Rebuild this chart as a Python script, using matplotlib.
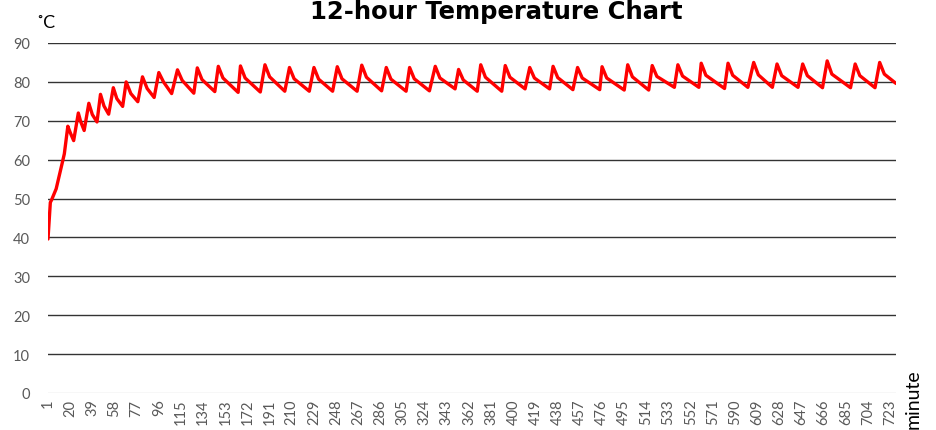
import matplotlib
matplotlib.use("Agg")
import matplotlib.pyplot as plt

# warm-up ramp before the thermostat starts cycling
ramp_min = [1, 3, 4, 8, 13, 15]
ramp_temp = [39.6, 49.0, 49.6, 52.5, 58.9, 61.5]

# heater cycles: top of each spike
peak_min = [18, 27, 36, 46, 57, 68, 82, 96, 112, 129, 147, 166, 187, 208, 229,
            249, 270, 291, 311, 333, 353, 372, 393, 414, 434, 455, 476, 498,
            519, 541, 561, 584, 606, 626, 648, 669, 693, 714]
peak_temp = [68.6, 72.0, 74.5, 76.8, 78.5, 80.0, 81.3, 82.4, 83.1, 83.6, 84.0,
             84.1, 84.4, 83.7, 83.7, 83.9, 84.3, 83.7, 83.7, 84.0, 83.2, 84.4,
             84.2, 83.7, 84.0, 83.7, 83.9, 84.4, 84.2, 84.4, 84.8, 84.8, 85.0,
             84.6, 84.6, 85.4, 84.6, 85.0]

# where the fast drop after a spike turns into the slow cool-down
knee_min = [20, 29, 39, 49, 60, 72, 86, 100, 116, 133, 151, 170, 191, 212, 233,
            253, 274, 295, 315, 337, 357, 376, 397, 418, 438, 459, 480, 502,
            523, 545, 565, 588, 610, 630, 652, 673, 697, 718]
knee_temp = [67.0, 69.8, 71.6, 73.8, 75.7, 77.0, 78.3, 80.0, 80.4, 80.6, 81.0,
             81.0, 81.3, 80.8, 80.7, 80.8, 81.2, 80.7, 80.8, 81.0, 80.5, 81.2,
             81.2, 81.0, 81.1, 81.0, 81.0, 81.3, 81.4, 81.5, 81.7, 81.7, 81.8,
             81.6, 81.6, 82.0, 81.6, 82.0]

# bottom of each cool-down, just before the next spike
trough_min = [23, 32, 43, 53, 65, 78, 92, 107, 126, 144, 164, 183, 204, 225,
              245, 266, 287, 308, 328, 350, 369, 390, 410, 431, 451, 474, 495,
              516, 538, 559, 581, 601, 622, 644, 665, 689, 710, 728]
trough_temp = [64.9, 67.5, 69.7, 71.7, 73.7, 74.9, 76.0, 77.0, 77.1, 77.5, 77.3,
               77.4, 77.6, 77.6, 77.6, 77.6, 77.7, 77.6, 77.7, 78.2, 77.6, 77.6,
               78.2, 78.2, 78.0, 78.0, 77.9, 77.9, 78.6, 78.6, 78.3, 78.6, 78.6,
               78.6, 78.5, 78.5, 78.5, 79.6]

x_ticks = list(range(1, 724, 19))
y_ticks = list(range(0, 91, 10))

pts = sorted(zip(ramp_min + peak_min + knee_min + trough_min,
                 ramp_temp + peak_temp + knee_temp + trough_temp))
minutes = [p[0] for p in pts]
temps = [p[1] for p in pts]

W, H = 936, 431
fig = plt.figure(figsize=(W / 100, H / 100), dpi=100)
ax = fig.add_axes([48 / W, (H - 394) / H, (896 - 48) / W, (394 - 44) / H])

tick_font = ["Lato", "DejaVu Sans"]
grey = "#595959"

for y in y_ticks[1:]:
    ax.axhline(y, color="#333333", lw=1.0, zorder=1)
ax.axhline(0, color="#d9d9d9", lw=1.0, zorder=1)

ax.plot(minutes, temps, color="#ff0000", lw=2.4, solid_joinstyle="round",
        solid_capstyle="round", zorder=3)

ax.set_xlim(1, 728)
ax.set_ylim(0, 90)
ax.set_xticks(x_ticks)
ax.set_xticklabels([str(v) for v in x_ticks], rotation=90, fontsize=10.5,
                   color=grey, family=tick_font)
ax.set_yticks(y_ticks)
ax.set_yticklabels([str(v) for v in y_ticks], fontsize=10.5, color=grey,
                   family=tick_font)
ax.tick_params(axis="x", length=0, pad=4)
ax.tick_params(axis="y", length=0, pad=13)
for side in ax.spines.values():
    side.set_visible(False)

fig.text(496 / W, (H - 19) / H, "12-hour Temperature Chart", ha="center",
         va="baseline", fontsize=17.5, fontweight="bold",
         family=["DejaVu Sans"])
fig.text(36 / W, (H - 28) / H, "˚C", ha="left", va="baseline", fontsize=13,
         family=["Lato", "DejaVu Sans"])
fig.text(913 / W, (H - 429) / H, "minute", ha="center", va="bottom",
         rotation=90, fontsize=14, family=["Lato", "DejaVu Sans"])

fig.savefig("out.png", dpi=100)
